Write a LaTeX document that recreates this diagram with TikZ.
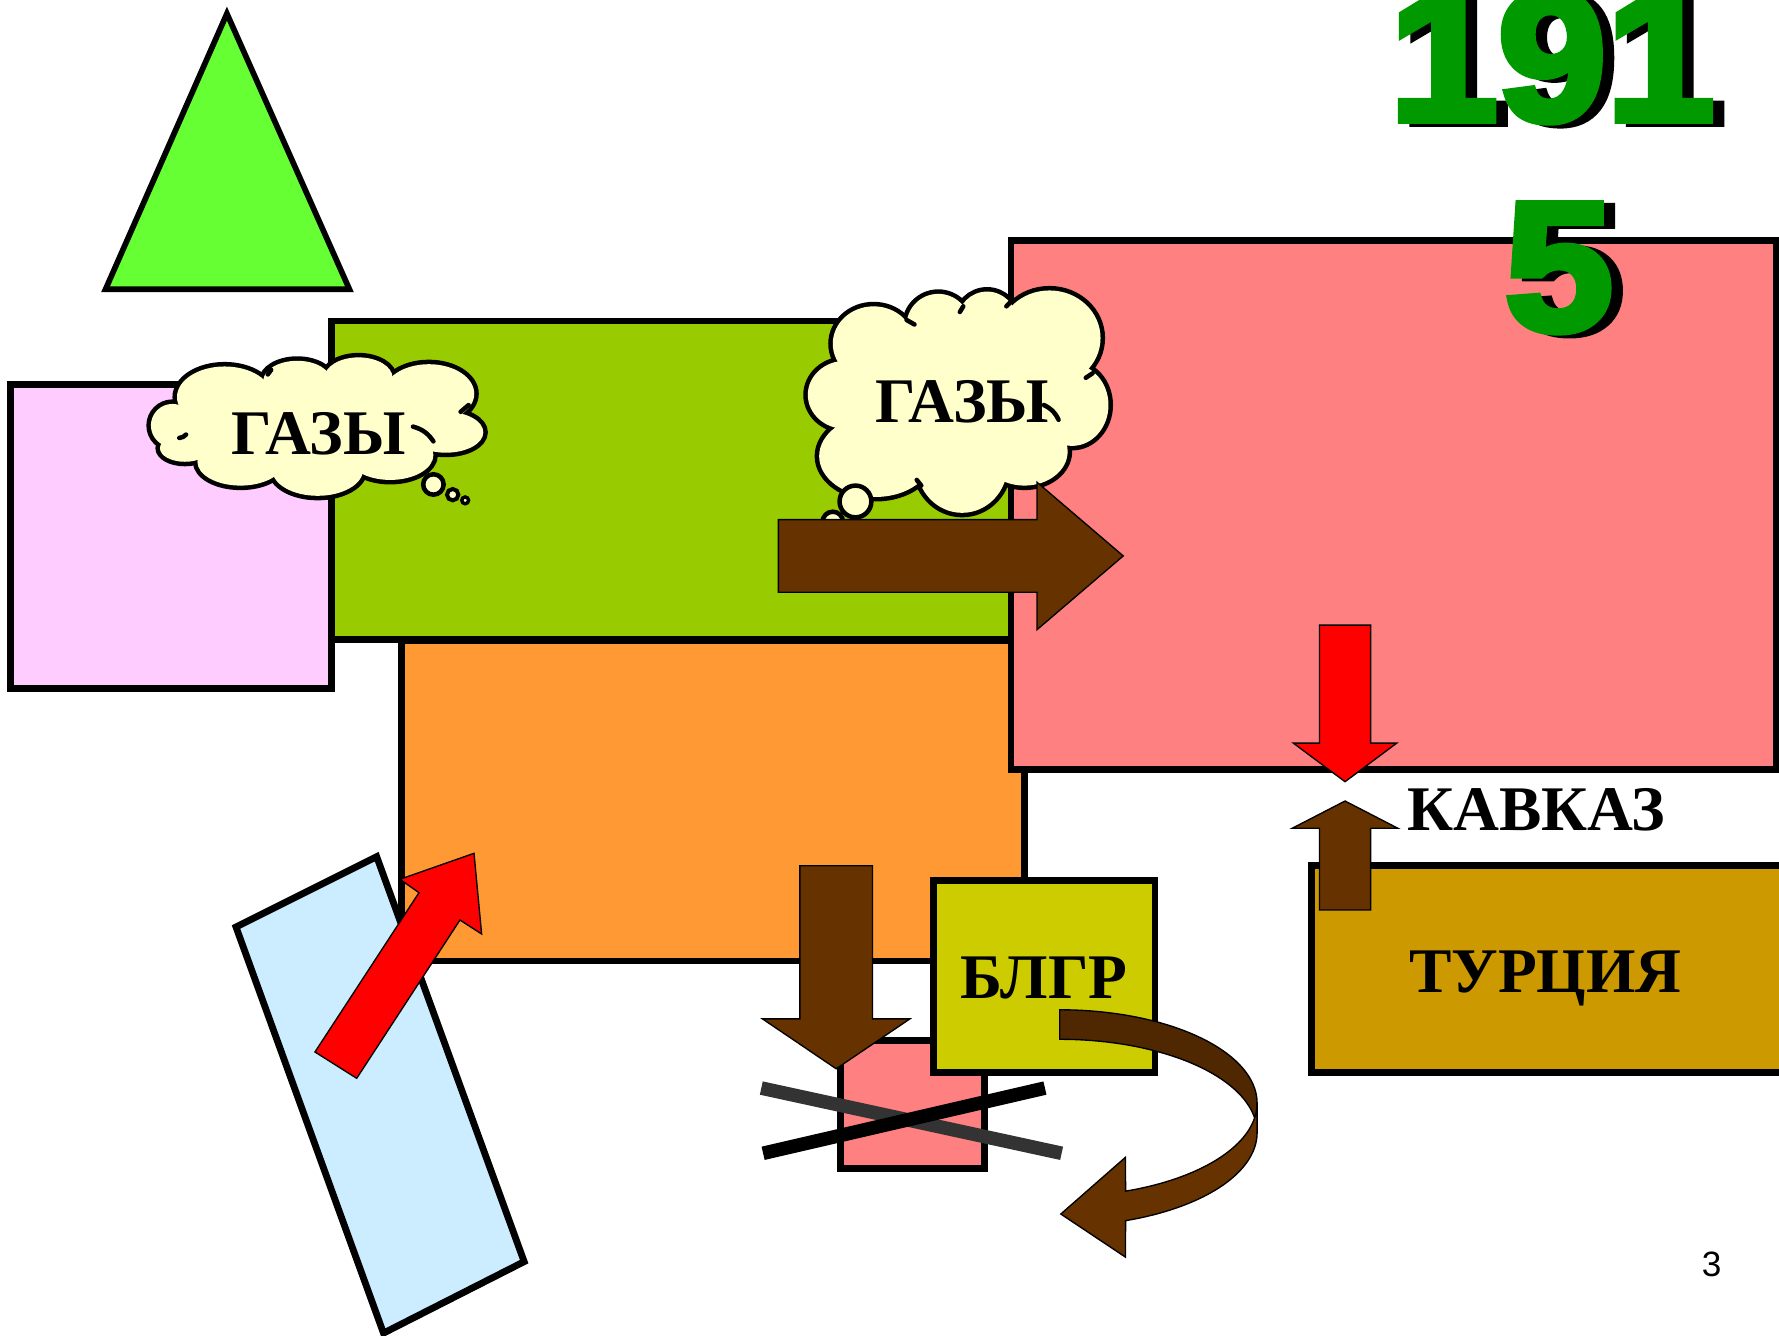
\documentclass[tikz,border=0pt]{standalone}
\usepackage{fontspec}
\setmainfont{Liberation Serif}
\newfontfamily\numfont[BoldFeatures={FakeBold=4}]{Liberation Sans}
\newfontfamily\pgfont{Liberation Sans}
\definecolor{trig}{HTML}{66FF33}
\definecolor{pinkc}{HTML}{FFCCFF}
\definecolor{greenc}{HTML}{99CC00}
\definecolor{orangec}{HTML}{FF9933}
\definecolor{salmon}{HTML}{FF8080}
\definecolor{cloudc}{HTML}{FFFFCC}
\definecolor{brownc}{HTML}{663300}
\definecolor{browndk}{HTML}{4F2700}
\definecolor{turkc}{HTML}{CC9900}
\definecolor{blgc}{HTML}{CCCC00}
\definecolor{bluec}{HTML}{CCECFF}
\definecolor{grayl}{HTML}{333333}
\definecolor{numgreen}{HTML}{009900}
\tikzset{
  box/.style={draw=black, line width=6pt, line join=miter},
  arr/.style={draw=black, line width=1.2pt, line join=miter},
  lbl/.style={font=\fontsize{56}{60}\selectfont\bfseries, inner sep=0pt, anchor=base},
  numtxt/.style={font=\fontsize{162}{185}\selectfont\numfont\bfseries, inner sep=0pt, anchor=base},
  puffout/.style={draw=black, line width=8pt, fill=cloudc},
  crease/.style={draw=black, line width=4pt, line cap=round},
}
\begin{document}
\begin{tikzpicture}[x=1pt, y=-1pt]
\useasboundingbox (0,0) rectangle (1568,1177);
\clip (0,0) rectangle (1568,1177);
\fill[white] (0,0) rectangle (1568,1177);

% triangle
\draw[fill=trig, draw=black, line width=5pt, line join=miter] (200,12) -- (308,255) -- (93,255) -- cycle;

% big rectangles
\draw[box, fill=pinkc] (9,339) rectangle (292,607);
\draw[box, fill=greenc] (292,283) rectangle (891,564);
\draw[box, fill=orangec] (354,565) rectangle (903,847);
\draw[box, fill=salmon] (891,212) rectangle (1566,678);

% blue slanted rectangle
\draw[box, fill=bluec] (208,817) -- (332,755) -- (462,1112) -- (338,1175) -- cycle;

% red diagonal arrow
\draw[arr, fill=red] (277.6,927.2) -- (314.4,950.4) -- (405.4,810.9) -- (424.5,823.2) -- (417.8,752.1) -- (352.5,775) -- (369.3,786.8) -- cycle;

% cloud 1
\foreach \cx/\cy/\rx/\ry in {152/375/19/19, 198/350/42/27, 262/336/30/18, 316/333/30/18, 378/347/40/26, 393/381/33/18, 344/401/38/22, 280/414/40/23, 212/407/38/21, 163/395/22/12}
  \draw[puffout] (\cx,\cy) ellipse[x radius=\rx pt, y radius=\ry pt];
\foreach \cx/\cy/\rx/\ry in {152/375/19/19, 198/350/42/27, 262/336/30/18, 316/333/30/18, 378/347/40/26, 393/381/33/18, 344/401/38/22, 280/414/40/23, 212/407/38/21, 163/395/22/12}
  \fill[cloudc] (\cx,\cy) ellipse[x radius=\rx pt, y radius=\ry pt];
\fill[cloudc] (152,375) -- (198,350) -- (262,336) -- (316,333) -- (378,347) -- (393,381) -- (344,401) -- (280,414) -- (212,407) -- (163,395) -- cycle;
\draw[crease] (158,386) to[bend right=20] (164,383);
\draw[crease] (364,376) to[bend left=20] (382,389);
\draw[crease] (406,363) -- (413,357);
\draw[crease] (236,330) -- (239,326);
\draw[draw=black, line width=4pt, fill=cloudc] (382,427) circle[radius=9pt];
\draw[draw=black, line width=3.5pt, fill=cloudc] (399,436) circle[radius=5pt];
\draw[draw=black, line width=3pt, fill=cloudc] (410,441) circle[radius=3pt];
\node[lbl] (gaz1) at (281,401) {ГАЗЫ};

% cloud 2
\foreach \cx/\cy/\rx/\ry in {745/348/33/30, 770/303/36/33, 827/287/28/28, 870/283/26/26, 925/298/45/42, 945/357/32/36, 903/398/38/30, 848/410/40/42, 772/402/50/36}
  \draw[puffout] (\cx,\cy) ellipse[x radius=\rx pt, y radius=\ry pt];
\foreach \cx/\cy/\rx/\ry in {745/348/33/30, 770/303/36/33, 827/287/28/28, 870/283/26/26, 925/298/45/42, 945/357/32/36, 903/398/38/30, 848/410/40/42, 772/402/50/36}
  \fill[cloudc] (\cx,\cy) ellipse[x radius=\rx pt, y radius=\ry pt];
\fill[cloudc] (745,348) -- (770,303) -- (827,287) -- (870,283) -- (925,298) -- (945,357) -- (903,398) -- (848,410) -- (772,402) -- cycle;
\draw[crease] (799,282) -- (806,286);
\draw[crease] (846,275) -- (849,270);
\draw[crease] (887,270) -- (891,266);
\draw[crease] (957,333) -- (963,329);
\draw[crease] (920,357) to[bend left=20] (933,370);
\draw[crease] (808,423) -- (812,428);
\draw[draw=black, line width=4pt, fill=cloudc] (754,442) circle[radius=14pt];
\draw[draw=black, line width=4pt, fill=cloudc] (734,460) circle[radius=9pt];
\node[lbl] (gaz2) at (848,372) {ГАЗЫ};

% brown right arrow
\draw[arr, fill=brownc] (686,458) -- (914,458) -- (914,425) -- (990,490) -- (914,555) -- (914,522) -- (686,522) -- cycle;

% 1915
\node[numtxt, text=black] (n191s) at (1378,108.5) {\scalebox{1.06}[1]{191}};
\node[numtxt, text=numgreen] (n191) at (1368,106) {\scalebox{1.06}[1]{191}};
\node[numtxt, text=black] (n5s) at (1384,293.5) {\scalebox{1.06}[1]{5}};
\node[numtxt, text=numgreen] (n5) at (1374,291) {\scalebox{1.06}[1]{5}};

% red down arrow
\draw[arr, fill=red] (1163,551) -- (1208,551) -- (1208,655) -- (1231,655) -- (1185.5,689) -- (1140,655) -- (1163,655) -- cycle;

% Turkey box and brown up arrow
\draw[box, fill=turkc] (1156,763) rectangle (1572,945);
\draw[arr, fill=brownc] (1163,802) -- (1208,802) -- (1208,730) -- (1232,730) -- (1185.5,706) -- (1139,730) -- (1163,730) -- cycle;
\node[lbl] (kavkaz) at (1354,732) {КАВКАЗ};
\node[lbl] (turk) at (1362,875) {ТУРЦИЯ};

% small salmon rect, down arrow, BLGR box
\draw[box, fill=salmon] (741,917) rectangle (868,1030);
\draw[arr, fill=brownc] (705,763) -- (769,763) -- (769,898) -- (802,898) -- (737,942) -- (672,898) -- (705,898) -- cycle;
\draw[box, fill=blgc] (823,776) rectangle (1018,945);
\node[lbl] (blgr) at (920,880) {БЛГР};

% crossing lines
\draw[line width=12pt, grayl] (671,959) -- (935.7,1016.5);
\draw[line width=12pt, black] (672.6,1016.5) -- (921,959);

% curved arrow
\filldraw[fill=browndk, draw=black, line width=1.2pt, line join=miter]
  plot[domain=-90:0, samples=40] ({934+174*cos(\x)},{972.3+82.3*sin(\x)})
  -- plot[domain=0:-90, samples=40] ({934+174*cos(\x)},{998.3+82.3*sin(\x)}) -- cycle;
\filldraw[fill=brownc, draw=black, line width=1.2pt, line join=miter]
  plot[domain=0:70.5, samples=40] ({934+174*cos(\x)},{972.3+82.3*sin(\x)})
  -- (992,1020) -- (935,1070) -- (992,1108)
  -- plot[domain=70.5:0, samples=40] ({934+174*cos(\x)},{998.3+82.3*sin(\x)}) -- cycle;

% page number
\node[font=\fontsize{31}{34}\selectfont\pgfont, inner sep=0pt, anchor=base] (pg) at (1508.6,1125) {3};
\end{tikzpicture}
\end{document}
